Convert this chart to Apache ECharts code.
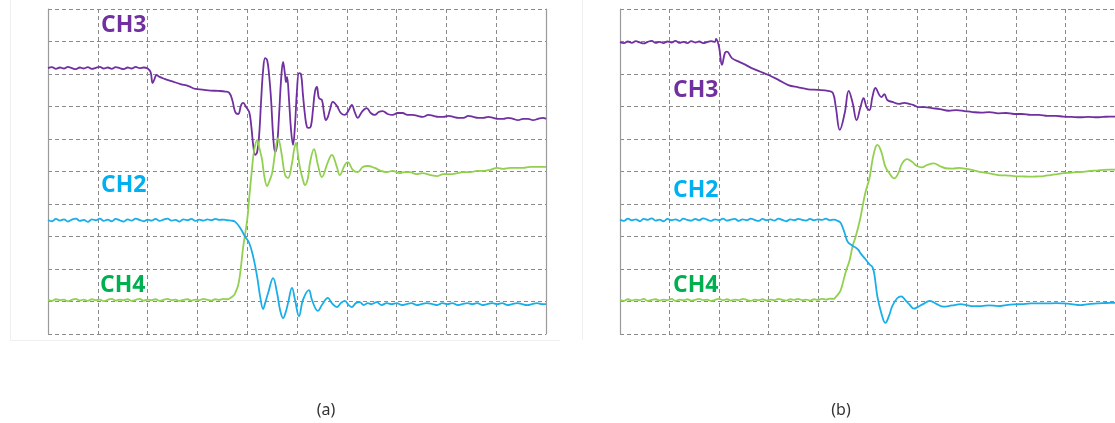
<!DOCTYPE html>
<html>
<head>
<meta charset="utf-8">
<script src="https://cdn.jsdelivr.net/npm/echarts@6/dist/echarts.min.js"></script>
<style>
html,body{margin:0;padding:0;background:#fff;}
#chart{width:1115px;height:423px;}
</style>
</head>
<body>
<div id="chart"></div>
<script>
// Panel captions and channel names
const panelLabels = ['(a)', '(b)'];
const channelNames = ['CH3', 'CH2', 'CH4'];

// Time axis: 10 divisions of 50 ns; vertical axis: 10 divisions
const timeMax = 500, timeDiv = 50;
const voltMax = 10, voltDiv = 1;

// ---------- Panel (a) ----------
const a_CH3 = [[0,8.18],[4,8.21],[8,8.16],[12,8.20],[16,8.17],[20,8.22],[24,8.18],[28,8.15],[32,8.20],[36,8.17],[40,8.21],[44,8.16],[48,8.19],[52,8.22],[56,8.17],[60,8.20],[64,8.16],[68,8.21],[72,8.18],[76,8.15],[80,8.20],[84,8.17],[88,8.22],[92,8.18],[96,8.20],[100,8.17],[103,8.06],[105,7.72],[107,7.85],[109,7.97],[112,7.91],[117,7.85],[124,7.78],[133,7.69],[141,7.63],[148,7.54],[155,7.52],[163,7.49],[171,7.48],[178,7.46],[182,7.42],[185,7.20],[188,6.83],[191,6.77],[194,7.05],[196,7.11],[199,6.98],[202,6.83],[204,6.43],[206,5.82],[208,5.51],[210,5.60],[212,6.12],[214,7.20],[216,8.12],[218,8.49],[220,8.43],[222,7.97],[224,7.20],[226,6.12],[228,5.60],[230,5.82],[232,6.74],[234,7.82],[236,8.37],[238,7.97],[239,7.75],[240,7.91],[242,7.20],[244,6.28],[246,5.82],[248,6.43],[250,7.51],[252,8.03],[254,8.00],[256,7.35],[258,6.74],[260,6.37],[262,6.34],[264,6.40],[266,6.89],[268,7.45],[270,7.60],[272,7.26],[275,7.20],[277,6.83],[279,6.58],[281,6.68],[283,6.89],[286,7.14],[290,7.02],[294,6.80],[298,6.74],[302,6.89],[305,7.05],[308,6.83],[311,6.65],[315,6.83],[320,6.95],[324,6.80],[328,6.74],[332,6.83],[336,6.86],[341,6.77],[346,6.74],[351,6.80],[356,6.80],[361,6.74],[366,6.74],[371,6.71],[376,6.68],[382,6.74],[387,6.71],[392,6.68],[397,6.68],[402,6.71],[407,6.68],[412,6.65],[417,6.65],[422,6.71],[427,6.68],[432,6.65],[437,6.65],[442,6.68],[447,6.65],[452,6.62],[457,6.62],[462,6.65],[467,6.62],[472,6.58],[477,6.62],[482,6.62],[487,6.58],[492,6.62],[497,6.65],[500,6.62]];

const a_CH2 = [[0,3.51],[4,3.47],[8,3.54],[12,3.49],[16,3.53],[20,3.46],[24,3.52],[28,3.55],[32,3.48],[36,3.51],[40,3.45],[44,3.53],[48,3.50],[52,3.55],[56,3.48],[60,3.52],[64,3.47],[68,3.54],[72,3.50],[76,3.46],[80,3.53],[84,3.49],[88,3.55],[92,3.51],[96,3.47],[100,3.52],[104,3.49],[108,3.54],[112,3.48],[116,3.52],[120,3.55],[124,3.49],[128,3.51],[132,3.46],[136,3.53],[140,3.50],[144,3.54],[148,3.48],[152,3.52],[156,3.49],[160,3.53],[164,3.50],[168,3.54],[172,3.51],[176,3.52],[180,3.50],[184,3.49],[188,3.45],[193,3.26],[198,2.99],[202,2.80],[206,2.38],[210,1.76],[213,1.15],[216,0.77],[218,0.95],[221,1.26],[226,1.72],[230,1.26],[233,0.74],[236,0.49],[239,0.71],[241,0.95],[245,1.42],[248,1.05],[252,0.55],[256,1.05],[262,1.35],[265,1.05],[271,0.71],[275,0.89],[281,1.11],[285,0.95],[290,0.83],[294,0.95],[298,1.02],[302,0.89],[305,0.83],[309,0.95],[313,0.98],[317,0.89],[321,0.95],[325,0.92],[330,0.98],[335,0.89],[340,0.95],[345,0.92],[350,0.95],[355,0.89],[360,0.92],[365,0.95],[370,0.89],[375,0.92],[380,0.95],[386,0.92],[391,0.89],[396,0.95],[401,0.92],[406,0.95],[411,0.89],[416,0.92],[421,0.95],[426,0.92],[431,0.95],[436,0.89],[441,0.92],[446,0.95],[451,0.92],[456,0.95],[461,0.89],[466,0.92],[471,0.95],[476,0.92],[481,0.89],[486,0.92],[491,0.95],[496,0.92],[500,0.92]];

const a_CH4 = [[0,1.05],[4,1.02],[8,1.07],[12,1.04],[16,1.06],[20,1.01],[24,1.05],[28,1.08],[32,1.03],[36,1.06],[40,1.02],[44,1.07],[48,1.04],[52,1.06],[56,1.01],[60,1.05],[64,1.08],[68,1.03],[72,1.06],[76,1.04],[80,1.07],[84,1.02],[88,1.05],[92,1.08],[96,1.03],[100,1.06],[104,1.04],[108,1.07],[112,1.02],[116,1.05],[120,1.08],[124,1.04],[128,1.06],[132,1.02],[136,1.05],[140,1.07],[144,1.03],[148,1.06],[152,1.04],[156,1.08],[160,1.05],[164,1.03],[168,1.07],[172,1.05],[176,1.08],[180,1.07],[183,1.11],[186,1.17],[188,1.26],[191,1.51],[193,1.88],[196,2.68],[200,3.51],[202,4.18],[205,5.14],[207,5.66],[210,5.97],[212,5.75],[215,5.35],[217,4.89],[220,4.55],[222,4.68],[225,4.95],[228,5.57],[231,6.03],[233,5.82],[235,5.45],[238,4.89],[241,4.80],[245,5.26],[247,5.66],[249,5.88],[251,5.51],[253,5.11],[256,4.74],[258,4.58],[261,4.80],[263,5.26],[267,5.69],[271,5.20],[275,4.83],[281,5.29],[285,5.51],[290,5.14],[293,4.89],[298,5.20],[301,5.29],[306,5.05],[311,4.98],[316,5.14],[321,5.17],[328,5.11],[334,5.02],[340,4.98],[346,5.02],[353,4.95],[358,4.98],[363,4.98],[370,4.92],[376,4.95],[384,4.89],[391,4.86],[397,4.92],[404,4.92],[411,4.95],[417,4.98],[424,4.98],[431,5.02],[437,5.02],[444,5.05],[451,5.11],[457,5.08],[464,5.11],[471,5.11],[477,5.11],[484,5.14],[491,5.14],[500,5.14]];

// ---------- Panel (b) ----------
const b_CH3 = [[0,8.98],[4,8.95],[8,9.00],[12,8.96],[16,9.01],[20,8.97],[24,8.94],[28,8.99],[32,9.02],[36,8.96],[40,8.99],[44,8.95],[48,9.00],[52,8.97],[56,9.02],[60,8.96],[64,8.99],[68,8.95],[72,9.01],[76,8.97],[80,9.00],[84,8.95],[88,8.98],[92,9.01],[96,8.99],[97,9.08],[100,8.84],[103,8.28],[106,8.65],[108,8.69],[113,8.49],[120,8.38],[127,8.28],[133,8.18],[142,8.07],[150,7.97],[160,7.82],[170,7.66],[180,7.59],[190,7.53],[200,7.51],[210,7.48],[215,7.42],[218,6.98],[222,6.28],[227,6.80],[231,7.48],[235,7.11],[239,6.58],[243,6.99],[246,7.26],[249,6.99],[252,6.89],[255,7.30],[258,7.57],[262,7.35],[264,7.29],[267,7.38],[270,7.20],[275,7.14],[282,7.08],[287,7.11],[292,7.08],[296,7.05],[302,6.98],[308,6.98],[315,6.95],[323,6.92],[332,6.87],[340,6.89],[348,6.86],[356,6.83],[365,6.81],[373,6.83],[382,6.79],[390,6.80],[398,6.77],[406,6.77],[415,6.74],[423,6.74],[432,6.71],[440,6.71],[448,6.69],[456,6.68],[465,6.67],[473,6.68],[482,6.67],[488,6.68],[495,6.69],[500,6.69]];

const b_CH2 = [[0,3.52],[4,3.48],[8,3.55],[12,3.50],[16,3.53],[20,3.47],[24,3.54],[28,3.51],[32,3.56],[36,3.49],[40,3.52],[44,3.47],[48,3.54],[52,3.50],[56,3.53],[60,3.48],[64,3.55],[68,3.51],[72,3.49],[76,3.54],[80,3.50],[84,3.56],[88,3.52],[92,3.48],[96,3.53],[100,3.50],[104,3.55],[108,3.49],[112,3.52],[116,3.54],[120,3.48],[124,3.53],[128,3.50],[132,3.55],[136,3.51],[140,3.48],[144,3.54],[148,3.50],[152,3.53],[156,3.49],[160,3.55],[164,3.51],[168,3.47],[172,3.53],[176,3.50],[180,3.54],[184,3.51],[188,3.49],[192,3.54],[196,3.50],[200,3.53],[204,3.51],[208,3.55],[212,3.50],[216,3.52],[220,3.48],[223,3.41],[227,3.10],[230,2.84],[235,2.71],[238,2.66],[241,2.58],[243,2.48],[248,2.30],[252,2.14],[255,2.06],[257,1.82],[260,1.15],[264,0.64],[268,0.34],[272,0.58],[275,0.86],[280,1.10],[284,1.16],[288,1.05],[292,0.92],[297,0.78],[300,0.82],[306,0.92],[313,1.02],[320,0.92],[327,0.84],[332,0.86],[338,0.89],[344,0.92],[350,0.89],[357,0.86],[365,0.86],[373,0.88],[382,0.86],[390,0.89],[398,0.91],[406,0.92],[415,0.94],[423,0.94],[432,0.94],[440,0.95],[448,0.94],[456,0.92],[465,0.89],[473,0.92],[482,0.94],[488,0.95],[495,0.96],[500,0.96]];

const b_CH4 = [[0,1.05],[4,1.02],[8,1.07],[12,1.03],[16,1.06],[20,1.04],[24,1.08],[28,1.02],[32,1.05],[36,1.07],[40,1.03],[44,1.06],[48,1.04],[52,1.08],[56,1.02],[60,1.06],[64,1.04],[68,1.07],[72,1.03],[76,1.05],[80,1.08],[84,1.04],[88,1.06],[92,1.02],[96,1.05],[100,1.08],[104,1.04],[108,1.07],[112,1.03],[116,1.06],[120,1.04],[124,1.08],[128,1.05],[132,1.02],[136,1.06],[140,1.04],[144,1.07],[148,1.03],[152,1.06],[156,1.04],[160,1.08],[164,1.05],[168,1.03],[172,1.07],[176,1.05],[180,1.08],[184,1.04],[188,1.06],[192,1.03],[196,1.07],[200,1.05],[204,1.08],[208,1.06],[212,1.09],[216,1.08],[218,1.14],[222,1.29],[224,1.45],[228,1.91],[232,2.28],[235,2.71],[238,2.99],[242,3.46],[245,3.92],[248,4.37],[252,4.80],[255,5.35],[258,5.74],[260,5.82],[264,5.60],[268,5.15],[272,4.95],[277,4.79],[281,4.94],[285,5.25],[290,5.38],[295,5.30],[300,5.17],[305,5.13],[310,5.20],[317,5.25],[323,5.17],[329,5.10],[336,5.09],[343,5.11],[350,5.08],[358,5.03],[365,4.98],[373,4.94],[382,4.89],[390,4.88],[398,4.86],[406,4.85],[415,4.84],[423,4.85],[428,4.86],[435,4.89],[442,4.92],[448,4.95],[455,4.96],[461,4.98],[468,4.99],[475,5.02],[482,5.03],[488,5.05],[495,5.06],[500,5.06]];

const colors = { CH3: '#7030A0', CH2: '#1AAEE8', CH4: '#92D050' };
const labelColors = { CH3: '#7030A0', CH2: '#00B0F0', CH4: '#00B050' };

const gridColor = '#8a8a8a';
const dash = [4, 3];

function xAxisFor(i) {
  return {
    type: 'value', gridIndex: i, min: 0, max: timeMax, interval: timeDiv,
    axisLine: { show: false }, axisTick: { show: false }, axisLabel: { show: false },
    splitLine: { show: true, lineStyle: { color: gridColor, type: dash, width: 1 } }
  };
}
function yAxisFor(i, pos, showSplit) {
  return {
    type: 'value', gridIndex: i, min: 0, max: voltMax, interval: voltDiv, position: pos,
    axisLine: { show: true, onZero: false, lineStyle: { color: '#9a9a9a', width: 1.2 } },
    axisTick: { show: false }, axisLabel: { show: false },
    splitLine: { show: showSplit, lineStyle: { color: gridColor, type: dash, width: 1 } }
  };
}
function line(name, data, xi, yi) {
  return {
    type: 'line', name: name, data: data, xAxisIndex: xi, yAxisIndex: yi,
    showSymbol: false, smooth: 0.4, animation: false, silent: true,
    lineStyle: { color: colors[name], width: 1.8 }
  };
}

const chart = echarts.init(document.getElementById('chart'), null, { renderer: 'canvas' });

function chText(name, x, y) {
  return {
    type: 'text', x: x, y: y, silent: true,
    style: { text: name, fill: labelColors[name], font: 'bold 23px "Open Sans", "Noto Sans", sans-serif', verticalAlign: 'middle', align: 'left' }
  };
}

chart.setOption({
  backgroundColor: '#ffffff',
  animation: false,
  grid: [
    { left: 48, top: 9, width: 498, height: 325 },
    { left: 620, top: 9, width: 500, height: 325 }
  ],
  xAxis: [xAxisFor(0), xAxisFor(1)],
  yAxis: [yAxisFor(0, 'left', true), yAxisFor(0, 'right', false), yAxisFor(1, 'left', true)],
  series: [
    line('CH3', a_CH3, 0, 0), line('CH4', a_CH4, 0, 0), line('CH2', a_CH2, 0, 0),
    line('CH3', b_CH3, 1, 2), line('CH4', b_CH4, 1, 2), line('CH2', b_CH2, 1, 2)
  ],
  graphic: [
    { type: 'line', silent: true, shape: { x1: 10.5, y1: 0, x2: 10.5, y2: 340 }, style: { stroke: '#efefef', lineWidth: 1 } },
    { type: 'line', silent: true, shape: { x1: 10, y1: 340.5, x2: 560, y2: 340.5 }, style: { stroke: '#efefef', lineWidth: 1 } },
    { type: 'line', silent: true, shape: { x1: 582.5, y1: 0, x2: 582.5, y2: 340 }, style: { stroke: '#efefef', lineWidth: 1 } },
    chText(channelNames[0], 101, 25),
    chText(channelNames[1], 101, 185),
    chText(channelNames[2], 100, 285),
    chText(channelNames[0], 673, 90),
    chText(channelNames[1], 673, 190),
    chText(channelNames[2], 673, 285),
    { type: 'text', x: 326, y: 410, silent: true, style: { text: panelLabels[0], fill: '#333333', font: '16px "Noto Sans", sans-serif', align: 'center', verticalAlign: 'middle' } },
    { type: 'text', x: 841, y: 410, silent: true, style: { text: panelLabels[1], fill: '#333333', font: '16px "Noto Sans", sans-serif', align: 'center', verticalAlign: 'middle' } }
  ]
});
</script>
</body>
</html>
